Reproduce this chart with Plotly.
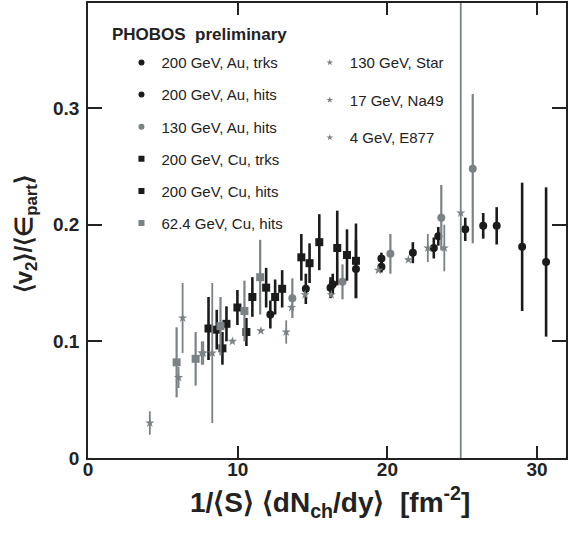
import plotly.graph_objects as go

# ---- data (x = 1/<S> <dNch/dy> [fm^-2], y = <v2>/<eps_part>, e = error) ----
au200_trks_x = [14.55, 16.2, 19.6, 21.7, 23.1, 25.2]
au200_trks_y = [0.145, 0.146, 0.164, 0.176, 0.180, 0.196]
au200_trks_e = [0.013, 0.009, 0.005, 0.009, 0.009, 0.010]

au200_hits_x = [12.18, 16.35, 17.9, 19.6, 23.4, 26.4, 27.3, 29.0, 30.6]
au200_hits_y = [0.123, 0.149, 0.162, 0.171, 0.190, 0.199, 0.199, 0.181, 0.168]
au200_hits_e = [0.012, 0.009, 0.025, 0.005, 0.008, 0.011, 0.016, 0.055, 0.064]

au130_hits_x = [13.65, 17.0, 20.2, 23.6, 25.7]
au130_hits_y = [0.137, 0.151, 0.175, 0.206, 0.248]
au130_hits_e = [0.017, 0.015, 0.017, 0.028, 0.064]

cu200_trks_x = [8.05, 8.98, 9.98, 10.98, 12.5, 14.25, 15.45, 17.3]
cu200_trks_y = [0.111, 0.094, 0.129, 0.138, 0.138, 0.172, 0.185, 0.174]
cu200_trks_e = [0.027, 0.014, 0.015, 0.017, 0.015, 0.020, 0.024, 0.022]

cu200_hits_x = [8.6, 9.25, 10.58, 11.9, 12.97, 14.8, 16.65, 17.9]
cu200_hits_y = [0.110, 0.115, 0.108, 0.146, 0.145, 0.167, 0.180, 0.169]
cu200_hits_e = [0.017, 0.015, 0.012, 0.017, 0.016, 0.017, 0.032, 0.032]

cu62_hits_x = [5.92, 7.19, 8.85, 10.45, 11.5]
cu62_hits_y = [0.082, 0.085, 0.113, 0.126, 0.155]
cu62_hits_e = [0.030, 0.023, 0.025, 0.026, 0.032]

star130_x = [13.24, 13.6, 14.5, 16.25, 19.4, 21.4, 22.7, 23.8, 24.9]
star130_y = [0.108, 0.129, 0.140, 0.140, 0.161, 0.170, 0.180, 0.180, 0.210]
star130_e = [0.010, 0.0, 0.0, 0.0, 0.0, 0.0, 0.012, 0.020, 0.300]

na49_x = [6.05, 6.32, 7.6, 7.7, 8.3, 9.65, 11.55]
na49_y = [0.069, 0.120, 0.090, 0.090, 0.090, 0.100, 0.109]
na49_e = [0.009, 0.030, 0.010, 0.010, 0.060, 0.0, 0.0]

e877_x = [4.13]
e877_y = [0.030]
e877_e = [0.010]

x_ticks = [0, 10, 20, 30]
y_ticks = [0, 0.1, 0.2, 0.3]
y_tick_labels = ["0", "0.1", "0.2", "0.3"]

BLACK = "#1b1b1b"
GREY = "#7b8285"

fig = go.Figure()

series = [
    ("200 GeV, Au, trks", au200_trks_x, au200_trks_y, au200_trks_e, "circle", BLACK, 8, "legend", 2.6),
    ("200 GeV, Au, hits", au200_hits_x, au200_hits_y, au200_hits_e, "circle", BLACK, 8, "legend", 2.6),
    ("130 GeV, Au, hits", au130_hits_x, au130_hits_y, au130_hits_e, "circle", GREY, 8, "legend", 2.2),
    ("200 GeV, Cu, trks", cu200_trks_x, cu200_trks_y, cu200_trks_e, "square", BLACK, 8, "legend", 2.6),
    ("200 GeV, Cu, hits", cu200_hits_x, cu200_hits_y, cu200_hits_e, "square", BLACK, 8, "legend", 2.6),
    ("62.4 GeV, Cu, hits", cu62_hits_x, cu62_hits_y, cu62_hits_e, "square", GREY, 8, "legend", 2.2),
    ("130 GeV, Star", star130_x, star130_y, star130_e, "star", GREY, 7, "legend2", 1.8),
    ("17 GeV, Na49", na49_x, na49_y, na49_e, "star", GREY, 7, "legend2", 1.8),
    ("4 GeV, E877", e877_x, e877_y, e877_e, "star", GREY, 7, "legend2", 1.8),
]

# data traces
for name, x, y, e, symbol, color, size, legend, thick in series:
    fig.add_trace(go.Scatter(
        x=x, y=y, mode="markers", name=name, showlegend=False,
        marker=dict(symbol=symbol, color=color, size=size, line=dict(width=0)),
        error_y=dict(type="data", array=e, visible=True, color=color,
                     thickness=thick, width=0),
    ))

# legend entries (smaller symbols, as in the reference key)
for name, x, y, e, symbol, color, size, legend, thick in series:
    fig.add_trace(go.Scatter(
        x=[None], y=[None], mode="markers", name=name, legend=legend,
        legendgroup=name, showlegend=True,
        marker=dict(symbol=symbol, color=color,
                    size=5 if symbol == "star" else 6, line=dict(width=0)),
    ))

tickfont = dict(family="Liberation Sans, Arial, sans-serif", size=19,
                color="#222", weight="bold")
axis_common = dict(
    showgrid=False, zeroline=False, showline=True, linecolor="#222",
    linewidth=1.5, ticks="inside", mirror="ticks", tickcolor="#222",
    tickwidth=1.5, tickfont=tickfont,
)

fig.update_layout(
    width=569, height=535,
    margin=dict(l=88, r=1, t=1, b=77),
    paper_bgcolor="white", plot_bgcolor="white",
    font=dict(family="Liberation Sans, Arial, sans-serif", color="#222"),
    xaxis=dict(range=[0, 31.93], tickvals=x_ticks, ticklen=12,
               ticklabelstandoff=-7, **axis_common),
    yaxis=dict(range=[0, 0.39], tickvals=y_ticks, ticktext=y_tick_labels,
               ticklen=14, ticklabelstandoff=3, **axis_common),
    legend=dict(x=0.07, y=0.905, xanchor="left", yanchor="top",
                bgcolor="rgba(0,0,0,0)", traceorder="grouped",
                tracegroupgap=9.6, itemsizing="trace",
                font=dict(size=15, color="#222")),
    legend2=dict(x=0.464, y=0.905, xanchor="left", yanchor="top",
                 bgcolor="rgba(0,0,0,0)", traceorder="grouped",
                 tracegroupgap=15, itemsizing="trace",
                 font=dict(size=15, color="#222")),
    showlegend=True,
    annotations=[
        dict(text="<b>PHOBOS  preliminary</b>", xref="paper", yref="paper",
             x=(110 - 88) / 480, y=(458 - 33) / 457, xanchor="left",
             yanchor="middle", showarrow=False,
             font=dict(size=17, color="#222")),
        dict(text="<b>1/⟨S⟩ ⟨dN<sub>ch</sub>/dy⟩  [fm<sup>-2</sup>]</b>",
             xref="paper", yref="paper", x=(331 - 88) / 480, y=(458 - 502) / 457,
             xanchor="center", yanchor="middle", showarrow=False,
             font=dict(size=28, color="#222")),
        dict(text="<b>⟨v<sub>2</sub>⟩/⟨∈<sub>part</sub>⟩</b>",
             xref="paper", yref="paper", x=(26 - 88) / 480, y=(458 - 233) / 457,
             xanchor="center", yanchor="middle", showarrow=False, textangle=-90,
             font=dict(size=24, color="#222")),
    ],
)

fig.write_html("out.html")
